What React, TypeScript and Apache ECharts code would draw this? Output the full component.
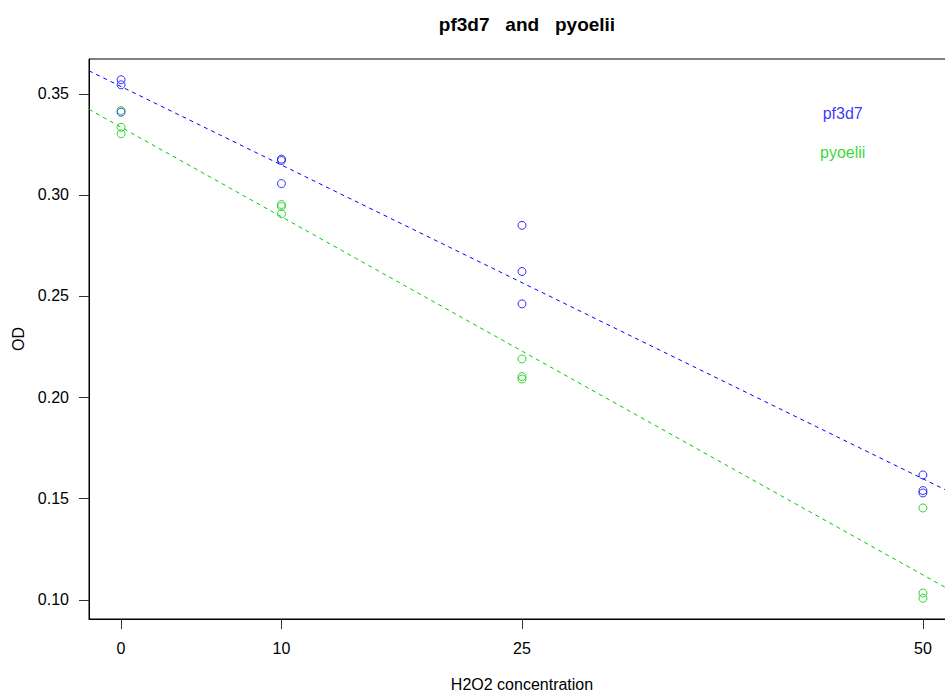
import React, { useEffect, useRef } from "react";
import * as echarts from "echarts";

const concentrations = [0, 0, 0, 10, 10, 10, 25, 25, 25, 50, 50, 50];
const pf3d7OD = [0.3568, 0.3543, 0.3408, 0.3176, 0.3169, 0.3055, 0.2849, 0.2621, 0.2461, 0.1616, 0.1539, 0.1527];
const pyoeliiOD = [0.3416, 0.3333, 0.3301, 0.2952, 0.2942, 0.2906, 0.2189, 0.2102, 0.209, 0.1453, 0.1033, 0.1007];
const xTicks = [0, 10, 25, 50];
const yTicks = [0.1, 0.15, 0.2, 0.25, 0.3, 0.35];
const labelPositions = { pf3d7: [45, 0.34], pyoelii: [45, 0.321] };

const BLUE = "#0000FF";
const GREEN = "#00CD00";
const TICK = "#333";
const FONT = "'Liberation Sans', Arial, Helvetica, sans-serif";

function fit(xs: number[], ys: number[]) {
  const n = xs.length;
  const mx = xs.reduce((a, b) => a + b, 0) / n;
  const my = ys.reduce((a, b) => a + b, 0) / n;
  let sxy = 0, sxx = 0;
  for (let i = 0; i < n; i++) {
    sxy += (xs[i] - mx) * (ys[i] - my);
    sxx += (xs[i] - mx) ** 2;
  }
  const b = sxy / sxx;
  return { a: my - b * mx, b };
}

export default function App() {
  const ref = useRef<HTMLDivElement>(null);
  useEffect(() => {
    if (!ref.current) return;
    const chart = echarts.init(ref.current, null, { renderer: "svg" });
    const xmin = -2, xmax = 52;
    const fb = fit(concentrations, pf3d7OD);
    const fg = fit(concentrations, pyoeliiOD);
    const allY = pf3d7OD.concat(pyoeliiOD);
    const ylo = Math.min(...allY), yhi = Math.max(...allY);
    const r = yhi - ylo;
    const ymin = ylo - 0.04 * r, ymax = yhi + 0.04 * r;
    const pts = (ys: number[]) => concentrations.map((x, i) => [x, ys[i]]);
    const circle = (color: string) => ({
      type: "scatter",
      symbol: "circle",
      symbolSize: 8,
      clip: false,
      itemStyle: { color: "rgba(0,0,0,0)", borderColor: color, borderWidth: 1 },
      z: 3,
    });
    const lineOf = (f: { a: number; b: number }, color: string) => ({
      type: "line",
      data: [[xmin, f.a + f.b * xmin], [xmax, f.a + f.b * xmax]],
      symbol: "none",
      lineStyle: { color, width: 1, type: [4, 4] },
      clip: false,
      z: 2,
    });
    chart.setOption({
      animation: false,
      textStyle: { fontFamily: FONT },
      title: {
        text: "pf3d7   and   pyoelii",
        left: 522,
        top: 10,
        textAlign: "center",
        textStyle: { fontFamily: FONT, fontSize: 19, fontWeight: "bold", color: "#000" },
      },
      grid: {
        left: 89,
        right: -10,
        top: 59,
        bottom: 79,
        show: true,
        borderColor: "#000",
        borderWidth: 1,
        backgroundColor: "transparent",
        outerBoundsMode: "none",
      },
      xAxis: {
        type: "value",
        min: xmin,
        max: xmax,
        name: "H2O2 concentration",
        nameLocation: "middle",
        nameGap: 57,
        nameTextStyle: { fontFamily: FONT, fontSize: 16, color: "#000" },
        axisLine: { show: true, onZero: false, lineStyle: { color: "#000", width: 1 } },
        splitLine: { show: false },
        axisTick: { show: false },
        axisLabel: { fontFamily: FONT, fontSize: 16, color: "#000", margin: 21, customValues: xTicks },
      },
      yAxis: {
        type: "value",
        min: ymin,
        max: ymax,
        name: "OD",
        nameLocation: "middle",
        nameGap: 60,
        nameTextStyle: { fontFamily: FONT, fontSize: 16, color: "#000" },
        axisLine: { show: true, onZero: false, lineStyle: { color: "#000", width: 1 } },
        splitLine: { show: false },
        axisTick: { show: false },
        axisLabel: {
          fontFamily: FONT,
          fontSize: 16,
          color: "#000",
          margin: 20,
          customValues: yTicks,
          formatter: (v: number) => v.toFixed(2),
        },
      },
      series: [
        { ...circle(BLUE), name: "pf3d7", data: pts(pf3d7OD) },
        { ...circle(GREEN), name: "pyoelii", data: pts(pyoeliiOD) },
        lineOf(fb, BLUE),
        lineOf(fg, GREEN),
        {
          type: "scatter",
          symbolSize: 0,
          silent: true,
          clip: false,
          data: [
            { value: labelPositions.pf3d7, label: { formatter: "pf3d7", color: BLUE } },
            { value: labelPositions.pyoelii, label: { formatter: "pyoelii", color: GREEN } },
          ],
          label: { show: true, position: "inside", fontFamily: FONT, fontSize: 16 },
          z: 4,
        },
      ],
    });
    // Axis ticks, placed through the chart's own scales.
    const tickLines: any[] = [];
    yTicks.forEach((v) => {
      const c = chart.convertToPixel({ gridIndex: 0 }, [xmin, v]) as number[];
      const y = Math.round(c[1]) + 0.5;
      tickLines.push({
        type: "line",
        silent: true,
        z: 10,
        shape: { x1: c[0] - 10, y1: y, x2: c[0], y2: y },
        style: { stroke: TICK, lineWidth: 1 },
      });
    });
    xTicks.forEach((v) => {
      const c = chart.convertToPixel({ gridIndex: 0 }, [v, ymin]) as number[];
      const x = Math.round(c[0]) + 0.5;
      tickLines.push({
        type: "line",
        silent: true,
        z: 10,
        shape: { x1: x, y1: c[1], x2: x, y2: c[1] + 10 },
        style: { stroke: TICK, lineWidth: 1 },
      });
    });
    chart.setOption({ graphic: tickLines });
    return () => chart.dispose();
  }, []);
  return (
    <div
      ref={ref}
      style={{ position: "absolute", left: 0, top: 0, width: 945, height: 698, background: "#fff" }}
    />
  );
}
